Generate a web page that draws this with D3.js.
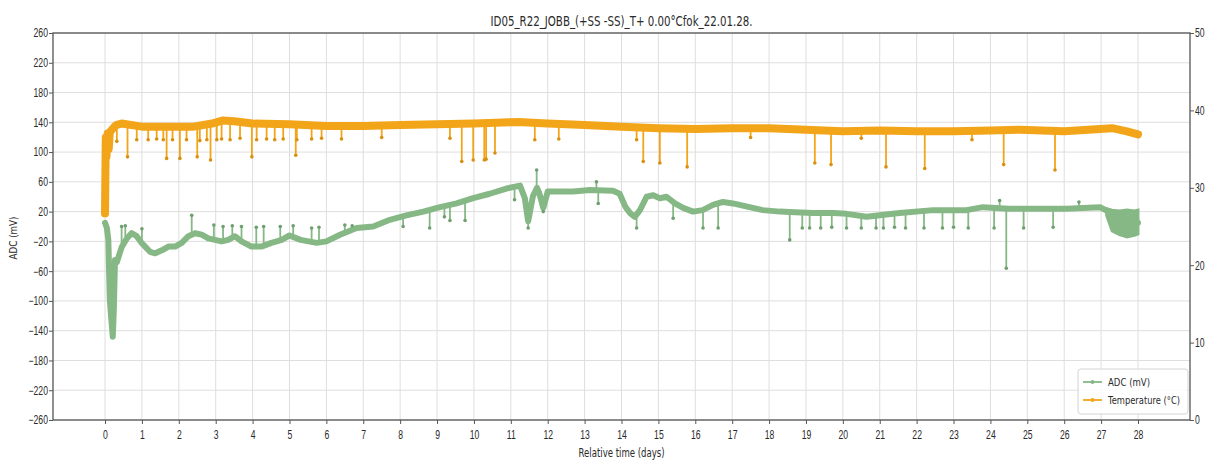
<!DOCTYPE html>
<html>
<head>
<meta charset="utf-8">
<script src="https://cdn.jsdelivr.net/npm/d3@7"></script>
<style>
  html, body { margin: 0; padding: 0; background: #fff; }
  svg { display: block; font-family: "DejaVu Sans", sans-serif; }
</style>
</head>
<body>
<svg id="chart" width="1210" height="462"></svg>
<script>
// ---------- DATA ----------
const chartTitle = "ID05_R22_JOBB_(+SS -SS)_T+ 0.00°Cfok_22.01.28.";
const xLabel = "Relative time (days)";
const yLabel = "ADC (mV)";
const seriesNames = ["ADC (mV)", "Temperature (°C)"];

const xTicks = d3.range(0, 29, 1);
const leftTicks = [-260, -220, -180, -140, -100, -60, -20, 20, 60, 100, 140, 180, 220, 260];
const rightTicks = [0, 10, 20, 30, 40, 50];

// ADC (mV) main trace
const adcDays = [0.0, 0.05, 0.09, 0.13, 0.18, 0.21, 0.24, 0.27, 0.32, 0.45, 0.59, 0.72, 0.86, 0.99, 1.22, 1.36, 1.54, 1.72, 1.9, 2.08, 2.26, 2.44, 2.62, 2.8, 2.98, 3.16, 3.34, 3.52, 3.7, 3.97, 4.24, 4.51, 4.79, 5.0, 5.3, 5.74, 6.0, 6.37, 6.82, 7.27, 7.72, 8.17, 8.63, 9.08, 9.53, 9.98, 10.43, 10.88, 11.25, 11.38, 11.47, 11.6, 11.71, 11.77, 11.88, 12.0, 12.69, 13.14, 13.77, 13.95, 14.1, 14.23, 14.36, 14.5, 14.68, 14.86, 15.04, 15.22, 15.45, 15.67, 15.94, 16.2, 16.48, 16.75, 17.02, 17.38, 17.83, 18.29, 18.7, 19.2, 19.74, 20.1, 20.64, 21.0, 21.54, 22.45, 23.35, 23.8, 24.5, 25.15, 26.06, 26.97, 27.2, 27.5, 27.8, 28.0];
const adcValues = [5, -2, -18, -99, -130, -148, -110, -45, -48, -28, -16, -9, -13, -22, -34, -36, -32, -27, -27, -22, -13, -9, -11, -16, -18, -20, -18, -13, -20, -27, -27, -22, -18, -12, -18, -22, -20, -11, -2, 0, 9, 15, 20, 26, 31, 38, 44, 51, 55, 38, 7, 41, 52, 45, 25, 47, 47, 49, 48, 44, 27, 18, 13, 22, 40, 42, 38, 40, 31, 25, 20, 22, 29, 33, 31, 27, 22, 20, 19, 18, 18, 17, 13, 15, 18, 22, 22, 26, 24, 24, 24, 26, 20, 5, 4, 5];

// ADC noisy band at the end of the record
const adcBandDays = [27.15, 27.3, 27.5, 27.7, 27.9, 28.0];
const adcBandLow = [15, -6, -11, -14, -12, -10];
const adcBandHigh = [24, 22, 21, 22, 21, 22];

// ADC isolated outliers (spikes)
const adcSpikeDays = [0.45, 0.55, 1.0, 2.35, 2.95, 3.2, 3.45, 3.7, 4.1, 4.3, 4.75, 5.1, 5.6, 5.8, 6.5, 6.7, 8.08, 8.8, 9.2, 9.35, 9.76, 11.1, 11.47, 11.7, 11.88, 13.32, 13.37, 14.41, 15.4, 16.21, 16.62, 18.56, 18.9, 19.1, 19.4, 19.7, 20.1, 20.5, 20.9, 21.1, 21.4, 21.7, 22.2, 22.7, 23.0, 23.4, 24.1, 24.25, 24.43, 24.9, 25.7, 26.4];
const adcSpikeValues = [0, 1, -3, 15, 2, 0, 1, 0, -1, 0, 0, 1, -2, -1, 2, 1, 0, -2, 13, 8, 8, 36, -2, 76, 20, 60, 31, -2, 11, -2, -2, -18, -2, -2, -2, -1, -2, -2, -2, -2, -1, -2, -2, -2, -1, -2, -2, 35, -56, -2, -1, 33];

// Temperature (°C) main trace
const tempDays = [0.0, 0.02, 0.04, 0.07, 0.1, 0.13, 0.2, 0.3, 0.45, 1.0, 1.5, 2.4, 2.9, 3.2, 3.5, 4.0, 5.0, 6.0, 7.0, 8.0, 9.0, 10.0, 11.2, 12.0, 13.0, 14.0, 15.0, 16.0, 17.0, 18.0, 19.0, 20.0, 21.0, 22.0, 23.0, 24.0, 24.8, 26.0, 27.3, 27.7, 28.0];
const tempValues = [26.7, 36.5, 34.0, 37.0, 35.0, 37.2, 37.6, 38.1, 38.3, 37.9, 37.9, 37.9, 38.3, 38.7, 38.6, 38.3, 38.2, 38.0, 38.0, 38.1, 38.2, 38.3, 38.5, 38.3, 38.1, 37.9, 37.7, 37.6, 37.7, 37.7, 37.5, 37.3, 37.4, 37.3, 37.3, 37.4, 37.5, 37.3, 37.7, 37.3, 36.9];

// Temperature downward spikes
const tempSpikeDays = [0.32, 0.61, 0.86, 1.17, 1.4, 1.58, 1.67, 1.83, 2.03, 2.21, 2.5, 2.57, 2.76, 2.86, 3.03, 3.16, 3.39, 3.66, 3.98, 4.11, 4.38, 4.6, 4.83, 5.17, 5.2, 5.6, 5.87, 6.41, 7.5, 9.35, 9.67, 9.98, 10.28, 10.33, 10.57, 11.65, 12.3, 14.41, 14.59, 15.04, 15.78, 17.5, 19.24, 19.68, 20.5, 21.17, 22.22, 23.5, 24.36, 25.75];
const tempSpikeValues = [36.0, 34.0, 36.2, 36.2, 36.3, 36.2, 33.8, 36.2, 33.8, 36.2, 34.0, 36.1, 36.2, 33.6, 36.2, 36.3, 36.2, 36.4, 34.0, 36.2, 36.3, 36.2, 36.3, 34.2, 36.2, 36.3, 36.4, 36.3, 36.5, 36.4, 33.4, 33.6, 33.6, 33.7, 34.5, 36.2, 36.3, 36.2, 33.4, 33.2, 32.7, 36.5, 33.2, 33.0, 36.4, 32.7, 32.5, 36.2, 33.0, 32.3];

// ---------- LAYOUT ----------
const plot = { left: 53, right: 1190, top: 33, bottom: 420 };
const adcColor = "#86b886";
const tempColor = "#f3a51a";
const spineColor = "#555";
const textColor = "#2a2a2a";
const squeeze = 0.72;

const svg = d3.select("#chart");

const x = d3.scaleLinear().domain([-1.41, 29.41]).range([plot.left, plot.right]);
const yL = d3.scaleLinear().domain([-260, 260]).range([plot.bottom, plot.top]);
const yR = d3.scaleLinear().domain([0, 50]).range([plot.bottom, plot.top]);

// grid
const grid = svg.append("g");
grid.selectAll("line.vx").data(xTicks).join("line")
  .attr("x1", d => x(d)).attr("x2", d => x(d))
  .attr("y1", plot.top).attr("y2", plot.bottom)
  .attr("stroke", "#dedede").attr("stroke-width", 1);
grid.selectAll("line.hy").data(leftTicks).join("line")
  .attr("x1", plot.left).attr("x2", plot.right)
  .attr("y1", d => yL(d)).attr("y2", d => yL(d))
  .attr("stroke", "#dedede").attr("stroke-width", 1);

// clip
svg.append("clipPath").attr("id", "clip").append("rect")
  .attr("x", plot.left).attr("y", plot.top)
  .attr("width", plot.right - plot.left).attr("height", plot.bottom - plot.top);
const g = svg.append("g").attr("clip-path", "url(#clip)");

// ---------- ADC ----------
const adcPts = adcDays.map((d, i) => [d, adcValues[i]]);
const adcBase = d3.scaleLinear().domain(adcDays).range(adcValues);
const lineL = d3.line().x(d => x(d[0])).y(d => yL(d[1]));

g.append("path").datum(adcPts)
  .attr("d", lineL).attr("fill", "none")
  .attr("stroke", adcColor).attr("stroke-width", 6)
  .attr("stroke-linejoin", "round").attr("stroke-linecap", "round");

const bandArea = d3.area()
  .x((d, i) => x(adcBandDays[i]))
  .y0((d, i) => yL(adcBandLow[i]))
  .y1((d, i) => yL(adcBandHigh[i]));
g.append("path").datum(adcBandDays).attr("d", bandArea)
  .attr("fill", adcColor).attr("stroke", adcColor).attr("stroke-width", 3);

const adcSp = g.append("g");
adcSpikeDays.forEach((d, i) => {
  adcSp.append("line")
    .attr("x1", x(d)).attr("x2", x(d))
    .attr("y1", yL(adcBase(d))).attr("y2", yL(adcSpikeValues[i]))
    .attr("stroke", adcColor).attr("stroke-width", 1.8);
  adcSp.append("circle")
    .attr("cx", x(d)).attr("cy", yL(adcSpikeValues[i])).attr("r", 1.8)
    .attr("fill", "#6f9f6f");
});

// ---------- Temperature ----------
const tempPts = tempDays.map((d, i) => [d, tempValues[i]]);
const tempBase = d3.scaleLinear().domain(tempDays).range(tempValues);
const lineR = d3.line().x(d => x(d[0])).y(d => yR(d[1]));

g.append("path").datum(tempPts)
  .attr("d", lineR).attr("fill", "none")
  .attr("stroke", tempColor).attr("stroke-width", 8)
  .attr("stroke-linejoin", "round").attr("stroke-linecap", "round");

const tSp = g.append("g");
tempSpikeDays.forEach((d, i) => {
  tSp.append("line")
    .attr("x1", x(d)).attr("x2", x(d))
    .attr("y1", yR(tempBase(d))).attr("y2", yR(tempSpikeValues[i]))
    .attr("stroke", tempColor).attr("stroke-width", 1.8);
  tSp.append("circle")
    .attr("cx", x(d)).attr("cy", yR(tempSpikeValues[i])).attr("r", 1.8)
    .attr("fill", "#d98f10");
});

// ---------- Axes ----------
function styleAxis(sel) {
  sel.select(".domain").remove();
  sel.selectAll(".tick line").attr("stroke", spineColor);
  sel.selectAll(".tick text").attr("fill", textColor)
    .style("font-size", "12px")
    .attr("transform", `scale(${squeeze},1)`);
}

svg.append("g").attr("transform", `translate(${plot.left},0)`)
  .call(d3.axisLeft(yL).tickValues(leftTicks).tickSize(4).tickPadding(3))
  .call(styleAxis);

svg.append("g").attr("transform", `translate(${plot.right},0)`)
  .call(d3.axisRight(yR).tickValues(rightTicks).tickSize(4).tickPadding(3))
  .call(styleAxis);

svg.append("g").attr("transform", `translate(0,${plot.bottom})`)
  .call(d3.axisBottom(x).tickValues(xTicks).tickSize(4).tickPadding(6).tickFormat(d3.format("d")))
  .call(styleAxis);

// spines
svg.append("rect")
  .attr("x", plot.left).attr("y", plot.top)
  .attr("width", plot.right - plot.left).attr("height", plot.bottom - plot.top)
  .attr("fill", "none").attr("stroke", spineColor).attr("stroke-width", 1.3);

// ---------- Texts ----------
svg.append("text").text(chartTitle)
  .attr("x", (plot.left + plot.right) / 2).attr("y", 26)
  .attr("text-anchor", "middle").attr("fill", textColor)
  .style("font-size", "14px")
  .attr("textLength", 262).attr("lengthAdjust", "spacingAndGlyphs");

svg.append("text").text(xLabel)
  .attr("x", (plot.left + plot.right) / 2).attr("y", 457)
  .attr("text-anchor", "middle").attr("fill", textColor)
  .style("font-size", "12px")
  .attr("textLength", 86).attr("lengthAdjust", "spacingAndGlyphs");

svg.append("text").text(yLabel)
  .attr("transform", "translate(17,238) rotate(-90)")
  .attr("text-anchor", "middle").attr("fill", textColor)
  .style("font-size", "11px")
  .attr("textLength", 43).attr("lengthAdjust", "spacingAndGlyphs");

// ---------- Legend ----------
const lg = svg.append("g");
lg.append("rect").attr("x", 1078).attr("y", 369).attr("width", 110).attr("height", 45)
  .attr("rx", 3).attr("fill", "#fff").attr("fill-opacity", 0.85)
  .attr("stroke", "#d4d4d4").attr("stroke-width", 1);
const legendColors = [adcColor, tempColor];
const legendLens = [42, 72];
seriesNames.forEach((name, i) => {
  const yy = 382 + i * 18;
  lg.append("line").attr("x1", 1083).attr("x2", 1102).attr("y1", yy).attr("y2", yy)
    .attr("stroke", legendColors[i]).attr("stroke-width", 1.8);
  lg.append("circle").attr("cx", 1092.5).attr("cy", yy).attr("r", 2).attr("fill", legendColors[i]);
  lg.append("text").text(name).attr("x", 1108).attr("y", yy + 4)
    .attr("fill", textColor).style("font-size", "11px")
    .attr("textLength", legendLens[i]).attr("lengthAdjust", "spacingAndGlyphs");
});
</script>
</body>
</html>
